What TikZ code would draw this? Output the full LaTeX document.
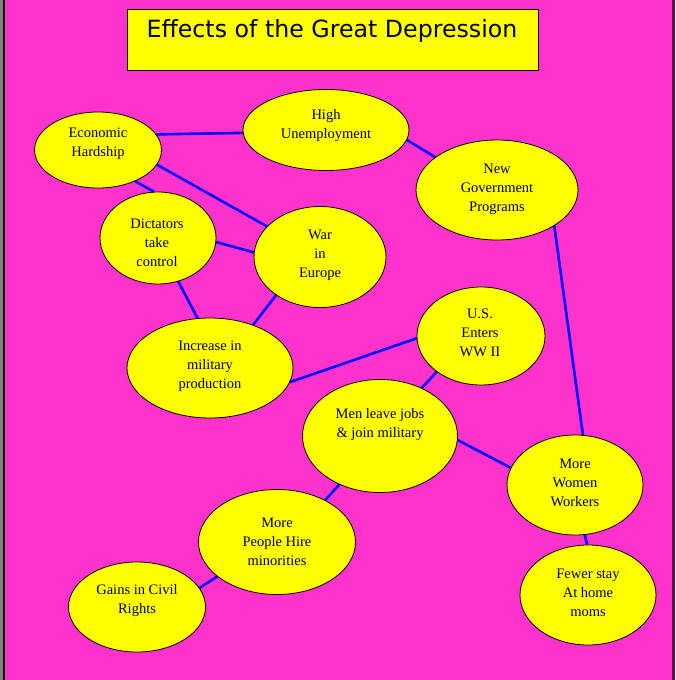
\documentclass[tikz,border=0pt]{standalone}
\usepackage{fontspec}
\setmainfont{Liberation Serif}
\newfontfamily\headfont{DejaVu Sans}
\usetikzlibrary{shapes.geometric}
\definecolor{pagepink}{HTML}{FF33CC}
\definecolor{boxyellow}{HTML}{FFFF00}
\definecolor{edgepurple}{HTML}{5A1048}

\begin{document}
\begin{tikzpicture}[
    x=1pt, y=-1pt,
    bubble/.style={
        ellipse,
        draw=black,
        line width=0.8pt,
        fill=boxyellow,
        inner sep=0pt
    },
    words/.style={
        align=center,
        inner sep=0pt,
        font=\fontsize{14.5}{19}\selectfont
    },
    banner/.style={
        rectangle,
        draw=black,
        line width=0.8pt,
        fill=boxyellow,
        minimum width=411pt,
        minimum height=61pt,
        inner sep=0pt
    },
    link/.style={draw=blue, line width=2.6pt}
]

% page
\useasboundingbox (0,0) rectangle (675,680);
\fill[pagepink] (5,0) rectangle (672,680);
\fill[gray] (0,0) rectangle (3,680);
\fill[black] (3,0) rectangle (5,680);
\fill[edgepurple] (672,0) rectangle (675,680);

% title
\node[banner] (title) at (332.5,39.5) {};
\node[anchor=base, inner sep=0pt, font=\headfont\fontsize{23.7}{28}\selectfont] (title-txt) at (332,37.5) {Effects of the Great Depression};

% bubbles
\node[bubble, minimum width=127pt, minimum height=76pt] (econ) at (98,150) {};
\node[bubble, minimum width=166pt, minimum height=81pt] (unemp) at (326,130) {};
\node[bubble, minimum width=162pt, minimum height=100pt] (gov) at (497,190) {};
\node[bubble, minimum width=116pt, minimum height=92pt] (dict) at (158,238) {};
\node[bubble, minimum width=132pt, minimum height=101pt] (war) at (320,257) {};
\node[bubble, minimum width=128pt, minimum height=98pt] (us) at (481,336) {};
\node[bubble, minimum width=166pt, minimum height=100pt] (incr) at (210,368) {};
\node[bubble, minimum width=155pt, minimum height=113pt] (men) at (380,436) {};
\node[bubble, minimum width=136pt, minimum height=100pt] (women) at (575,485) {};
\node[bubble, minimum width=157pt, minimum height=105pt] (hire) at (277,542) {};
\node[bubble, minimum width=137pt, minimum height=90pt] (civil) at (137,607) {};
\node[bubble, minimum width=136pt, minimum height=100pt] (fewer) at (588,595) {};

% texts
\node[words] (econ-txt) at (98,144) {Economic\\Hardship};
\node[words] (unemp-txt) at (326,126) {High\\Unemployment};
\node[words] (gov-txt) at (497,189) {New\\Government\\Programs};
\node[words] (dict-txt) at (157,243) {Dictators\\take\\control};
\node[words] (war-txt) at (320,255) {War\\in\\Europe};
\node[words] (us-txt) at (480,333) {U.S.\\Enters\\WW II};
\node[words] (incr-txt) at (210,366) {Increase in\\military\\production};
\node[words] (men-txt) at (380,425) {Men leave jobs\\\& join military};
\node[words] (women-txt) at (575,483) {More\\Women\\Workers};
\node[words] (hire-txt) at (277,542) {More\\People Hire\\minorities};
\node[words] (civil-txt) at (137,601) {Gains in Civil\\Rights};
\node[words] (fewer-txt) at (588,593) {Fewer stay\\At home\\moms};

% connectors
\draw[link] (econ.15) -- (unemp.182);
\draw[link] (econ.-14) -- (war.150);
\draw[link] (econ.-40) -- (dict.95);
\draw[link] (dict.-4) -- (war.176);
\draw[link] (dict.-65) -- (incr.104);
\draw[link] (war.221) -- (incr.45);
\draw[link] (unemp.-7) -- (gov.152);
\draw[link] (gov.-32) -- (women.81);
\draw[link] (incr.-10) -- (us.182);
\draw[link] (us.219) -- (men.49);
\draw[link] (men.-3) -- (women.165);
\draw[link] (men.230) -- (hire.41);
\draw[link] (hire.210) -- (civil.17);
\draw[link] (women.-79) -- (fewer.91);

\end{tikzpicture}
\end{document}
